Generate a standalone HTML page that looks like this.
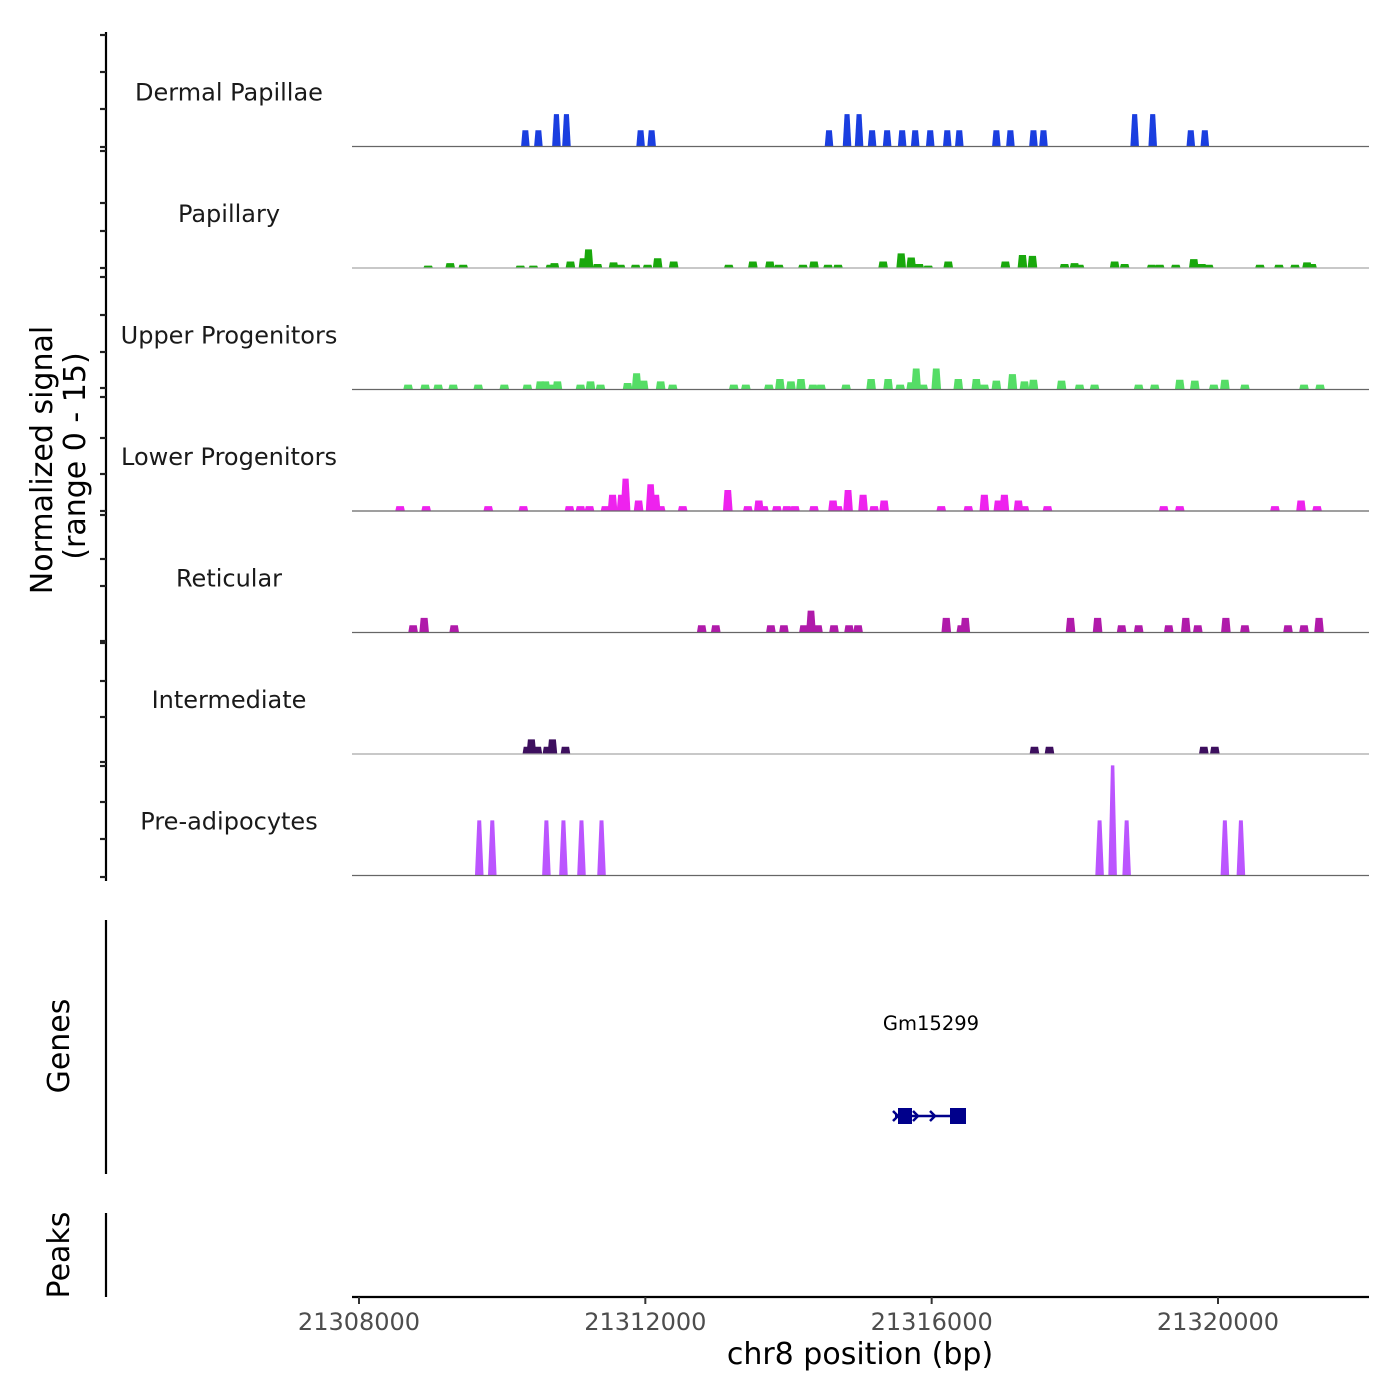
<!DOCTYPE html>
<html><head><meta charset="utf-8"><title>Coverage plot</title>
<style>
html,body{margin:0;padding:0;background:#fff;}
svg{display:block;font-family:"DejaVu Sans","Liberation Sans",sans-serif;}
</style></head>
<body>
<svg id="chart" width="1400" height="1400" viewBox="0 0 1400 1400" xmlns="http://www.w3.org/2000/svg">
  <g id="tracks"></g>
  <g id="yaxis">
    <line x1="106" y1="32" x2="106" y2="881" stroke="#000" stroke-width="2.2"/>
  </g>
  <text transform="translate(52,460) rotate(-90)" text-anchor="middle" font-size="30">Normalized signal</text>
  <text transform="translate(85,456) rotate(-90)" text-anchor="middle" font-size="30">(range 0 - 15)</text>

  <g>
    <line x1="106" y1="920" x2="106" y2="1174" stroke="#000" stroke-width="2.2"/>
    <text transform="translate(69,1046) rotate(-90)" text-anchor="middle" font-size="30">Genes</text>
    <text x="931" y="1030" text-anchor="middle" font-size="19.5">Gm15299</text>
    <g fill="#00008b" stroke="#00008b">
      <line x1="895" y1="1116" x2="966" y2="1116" stroke-width="2.5"/>
      <rect x="898" y="1108" width="14" height="16" stroke="none"/>
      <rect x="950" y="1108" width="16" height="16" stroke="none"/>
      <polyline points="893,1111 898,1116 893,1121" fill="none" stroke-width="2.5"/>
      <polyline points="913,1111 918,1116 913,1121" fill="none" stroke-width="2.5"/>
      <polyline points="930,1111 935,1116 930,1121" fill="none" stroke-width="2.5"/>
    </g>
  </g>

  <g>
    <line x1="106" y1="1213" x2="106" y2="1297" stroke="#000" stroke-width="2.2"/>
    <text transform="translate(69,1255) rotate(-90)" text-anchor="middle" font-size="30">Peaks</text>
  </g>

  <g id="xaxis">
    <line x1="352" y1="1297" x2="1369" y2="1297" stroke="#000" stroke-width="2.2"/>
  </g>
  <text x="860" y="1364" text-anchor="middle" font-size="30">chr8 position (bp)</text>
</svg>
<script>
// ---- data ----
const trackNames = ["Dermal Papillae","Papillary","Upper Progenitors","Lower Progenitors","Reticular","Intermediate","Pre-adipocytes"];
const trackColors = ["#1a3ee0","#19a80c","#55dd66","#ee22ee","#b01aaa","#3d0f5e","#bb55ff"];
const xTicks = [21308000,21312000,21316000,21320000];
const xTickLabels = ["21308000","21312000","21316000","21320000"];

const dermalPos = [21310324,21310506,21310758,21310898,21311934,21312088,21314566,21314818,21314986,21315168,21315378,21315588,21315770,21315980,21316218,21316386,21316904,21317100,21317422,21317562,21318836,21319088,21319620,21319816];
const dermalVal = [2,2,4,4,2,2,2,4,4,2,2,2,2,2,2,2,2,2,2,2,4,4,2,2];

const papillaryPos = [21308966,21309274,21309456,21310254,21310436,21310674,21310730,21310954,21311136,21311206,21311332,21311556,21311654,21311864,21312032,21312172,21312396,21313166,21313502,21313740,21313866,21314202,21314356,21314552,21314692,21315322,21315574,21315714,21315826,21315952,21316232,21317030,21317268,21317408,21317856,21317996,21318066,21318556,21318696,21319074,21319186,21319410,21319662,21319774,21319872,21320586,21320852,21321076,21321244,21321314];
const papillaryVal = [0.3,0.6,0.4,0.3,0.3,0.4,0.6,0.8,1.2,2.3,0.5,0.7,0.4,0.4,0.4,1.2,0.8,0.4,0.8,0.8,0.4,0.4,0.8,0.4,0.4,0.8,1.8,1.3,0.5,0.3,0.8,0.8,1.6,1.5,0.5,0.6,0.4,0.8,0.5,0.4,0.4,0.4,1.1,0.5,0.4,0.4,0.4,0.4,0.7,0.5];

const upperPos = [21308686,21308924,21309106,21309316,21309666,21310030,21310352,21310534,21310604,21310674,21310772,21311094,21311234,21311374,21311752,21311878,21311976,21312214,21312382,21313236,21313404,21313726,21313880,21314034,21314174,21314342,21314454,21314804,21315154,21315392,21315560,21315714,21315784,21315882,21316064,21316372,21316624,21316736,21316904,21317128,21317296,21317422,21317814,21318066,21318276,21318892,21319116,21319466,21319676,21319942,21320096,21320376,21321202,21321426];
const upperVal = [0.6,0.6,0.6,0.6,0.6,0.6,0.6,1.0,1.0,0.6,1.0,0.6,1.0,0.6,0.8,2.0,1.1,1.0,0.6,0.6,0.6,0.6,1.3,1.0,1.3,0.6,0.6,0.6,1.3,1.3,0.6,0.9,2.6,0.6,2.6,1.3,1.3,0.6,1.1,1.9,1.0,1.2,1.1,0.6,0.6,0.6,0.6,1.2,1.1,0.6,1.2,0.6,0.6,0.6];

const lowerPos = [21308574,21308938,21309806,21310296,21310940,21311094,21311220,21311444,21311542,21311668,21311724,21311906,21312074,21312144,21312214,21312522,21313152,21313432,21313586,21313656,21313838,21313978,21314090,21314356,21314622,21314692,21314832,21315042,21315196,21315336,21316134,21316512,21316736,21316932,21317016,21317212,21317296,21317618,21319242,21319466,21320796,21321160,21321384];
const lowerVal = [0.6,0.6,0.6,0.6,0.6,0.6,0.6,0.6,2.0,2.0,4.0,1.3,3.3,2.0,0.6,0.6,2.6,0.6,1.3,0.6,0.6,0.6,0.6,0.6,1.3,0.6,2.6,2.0,0.6,1.3,0.6,0.6,2.0,1.3,2.0,1.3,0.6,0.6,0.6,0.6,0.6,1.3,0.6];

const reticularPos = [21308756,21308910,21309330,21312788,21312984,21313754,21313936,21314216,21314314,21314412,21314636,21314846,21314972,21316204,21316414,21316470,21317940,21318318,21318654,21318892,21319312,21319550,21319718,21320110,21320376,21320978,21321202,21321412];
const reticularVal = [0.9,1.8,0.9,0.9,0.9,0.9,0.9,0.9,2.7,0.9,0.9,0.9,0.9,1.8,0.9,1.8,1.8,1.8,0.9,0.9,0.9,1.8,0.9,1.8,0.9,0.9,0.9,1.8];

const intermediatePos = [21310352,21310408,21310492,21310632,21310702,21310884,21317436,21317646,21319802,21319956];
const intermediateVal = [0.9,1.8,0.9,0.9,1.8,0.9,0.9,0.9,0.9,0.9];

const preadipoPos = [21309680,21309862,21310618,21310856,21311108,21311388,21318346,21318528,21318724,21320096,21320320];
const preadipoVal = [6.8,6.8,6.8,6.8,6.8,6.8,6.8,13.6,6.8,6.8,6.8];

const trackPos = [dermalPos,papillaryPos,upperPos,lowerPos,reticularPos,intermediatePos,preadipoPos];
const trackVal = [dermalVal,papillaryVal,upperVal,lowerVal,reticularVal,intermediateVal,preadipoVal];
const yMax = 15;
const yTickPx = [35,72,109,147,151,203,231,268,277,315,352,388,397,438,474,511,515,559,586,641,643,681,717,762,766,802,839,877];

// ---- scales ----
const NS = "http://www.w3.org/2000/svg";
const X0 = 359, BP0 = 21308000, PX_PER_BP = 286.33/4000;
function xScale(bp){ return X0 + (bp - BP0) * PX_PER_BP; }
const TRACK_H = 121.5, FIRST_BASE = 146.5;
function baseY(i){ return FIRST_BASE + i * TRACK_H; }
function yScale(i, v){ return baseY(i) - v / yMax * TRACK_H; }

const tracks = document.getElementById('tracks');
const binBp = [120,135,135,135,135,135,120];

trackNames.forEach((name, i) => {
  const g = document.createElementNS(NS,'g');
  
  
  const lbl = document.createElementNS(NS,'text');
  
  
  lbl.setAttribute('x', 229); lbl.setAttribute('y', baseY(i) - 46);
  lbl.setAttribute('text-anchor','middle'); lbl.setAttribute('font-size','24');
  lbl.setAttribute('fill','#1a1a1a');
  lbl.textContent = name;
  g.appendChild(lbl);
  const pos = trackPos[i], val = trackVal[i];
  for (let k = 0; k < pos.length; k++) {
    const xl = xScale(pos[k] - binBp[i]/2), xr = xScale(pos[k] + binBp[i]/2);
    const w = xr - xl, inset = Math.min(w*0.3, 1 + val[k]*0.2);
    const yb = baseY(i), yt = yScale(i, val[k]);
    const p = document.createElementNS(NS,'polygon');
    
    
    p.setAttribute('points', `${xl},${yb} ${xl+inset},${yt} ${xr-inset},${yt} ${xr},${yb}`);
    p.setAttribute('fill', trackColors[i]);
    g.appendChild(p);
  }
  const bl = document.createElementNS(NS,'line');
  
  
  bl.setAttribute('x1', 352); bl.setAttribute('x2', 1369);
  bl.setAttribute('y1', baseY(i)); bl.setAttribute('y2', baseY(i));
  bl.setAttribute('stroke', i === 1 || i === 5 ? '#a8a8a8' : '#666');
  bl.setAttribute('stroke-width', '1.2');
  g.appendChild(bl);
  tracks.appendChild(g);
});

const yaxis = document.getElementById('yaxis');
yTickPx.forEach(t => {
  const l = document.createElementNS(NS,'line');
  
  
  l.setAttribute('x1', 100); l.setAttribute('x2', 106);
  l.setAttribute('y1', t); l.setAttribute('y2', t);
  l.setAttribute('stroke', '#222'); l.setAttribute('stroke-width', '2.2');
  yaxis.appendChild(l);
});

const xaxis = document.getElementById('xaxis');
xTicks.forEach((t, j) => {
  const l = document.createElementNS(NS,'line');
  
  
  l.setAttribute('x1', xScale(t)); l.setAttribute('x2', xScale(t));
  l.setAttribute('y1', 1297); l.setAttribute('y2', 1304);
  l.setAttribute('stroke', '#333'); l.setAttribute('stroke-width', '2');
  xaxis.appendChild(l);
  const tx = document.createElementNS(NS,'text');
  
  
  tx.setAttribute('x', xScale(t)); tx.setAttribute('y', 1330);
  tx.setAttribute('text-anchor','middle'); tx.setAttribute('font-size','24');
  tx.setAttribute('fill','#4d4d4d');
  tx.textContent = xTickLabels[j];
  xaxis.appendChild(tx);
});
</script>
</body></html>
